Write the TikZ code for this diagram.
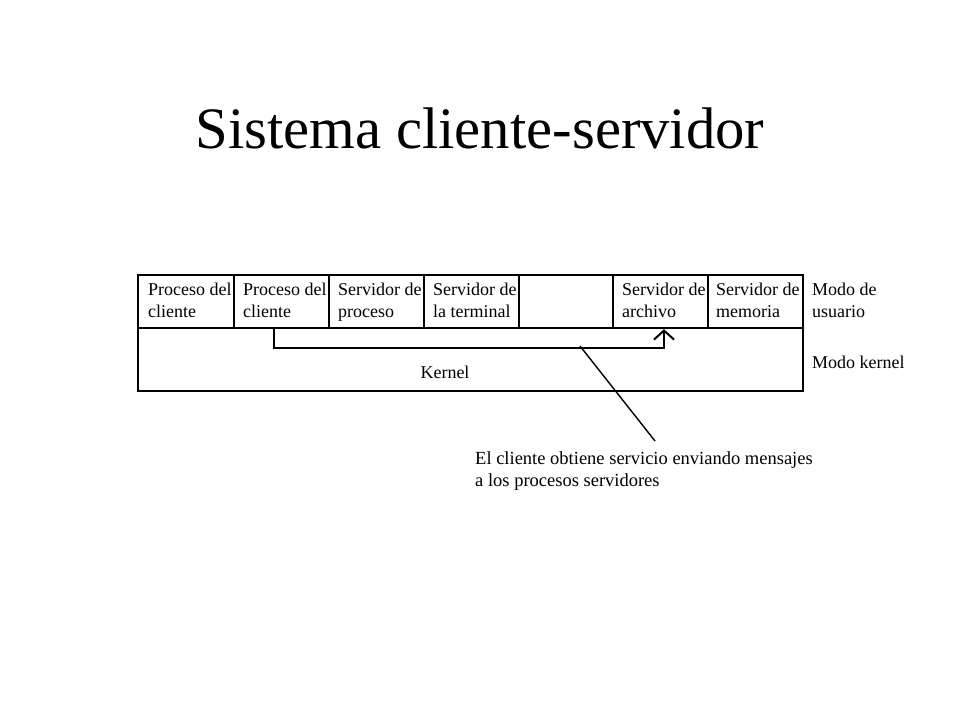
\documentclass[tikz,border=0pt]{standalone}
\usepackage{fontspec}
\setmainfont{Liberation Serif}
\usetikzlibrary{arrows.meta,calc}
\begin{document}
\begin{tikzpicture}[x=1pt,y=-1pt,
  cellbox/.style={draw,line width=2.2pt,minimum width=95pt,minimum height=53pt,inner sep=0pt,anchor=north west},
  lbl/.style={font=\fontsize{18}{22}\selectfont,anchor=base west,inner sep=0pt,align=left},
  conn/.style={line width=2pt}]
\useasboundingbox (0,0) rectangle (960,720);
\node[font=\fontsize{58.7}{64}\selectfont,anchor=base,inner sep=0pt] (title) at (480,148) {Sistema cliente-servidor};
% cells
\node[cellbox,minimum width=96pt] (c1) at (137,274) {};
\node[cellbox] (c2) at (233,274) {};
\node[cellbox] (c3) at (328,274) {};
\node[cellbox] (c4) at (423,274) {};
\node[cellbox,minimum width=94pt] (c5) at (518,274) {};
\node[cellbox] (c6) at (612,274) {};
\node[cellbox] (c7) at (707,274) {};
\node[cellbox,minimum width=665pt,minimum height=63pt] (kern) at (137,327) {};
% cell texts (base anchor = last line)
\node[lbl] (t1) at (148,317) {Proceso del\\cliente};
\node[lbl] (t2) at (243,317) {Proceso del\\cliente};
\node[lbl] (t3) at (338,317) {Servidor de\\proceso};
\node[lbl] (t4) at (433,317) {Servidor de\\la terminal};
\node[lbl] (t6) at (622,317) {Servidor de\\archivo};
\node[lbl] (t7) at (716,317) {Servidor de\\memoria};
\node[font=\fontsize{18}{22}\selectfont,anchor=base,inner sep=0pt] (tk) at (445,378) {Kernel};
\node[lbl] (mu) at (812,317) {Modo de\\usuario};
\node[lbl] (mk) at (812,368) {Modo kernel};
\node[lbl,font=\fontsize{18.5}{22}\selectfont] (note) at (475,486) {El cliente obtiene servicio enviando mensajes\\a los procesos servidores};
% connector
\coordinate (s) at ($(c2.south west)+(41,0)$);
\coordinate (e) at ($(c6.south west)+(52,0)$);
\coordinate (p) at (580,346);
\coordinate (q) at (655,441);
\draw[conn,-{Straight Barb[length=9pt,width=20pt,line width=2pt]}] (s) -- ++(0,19) -| (e);
\draw[line width=1.4pt] (p) -- (q);
\end{tikzpicture}
\end{document}
